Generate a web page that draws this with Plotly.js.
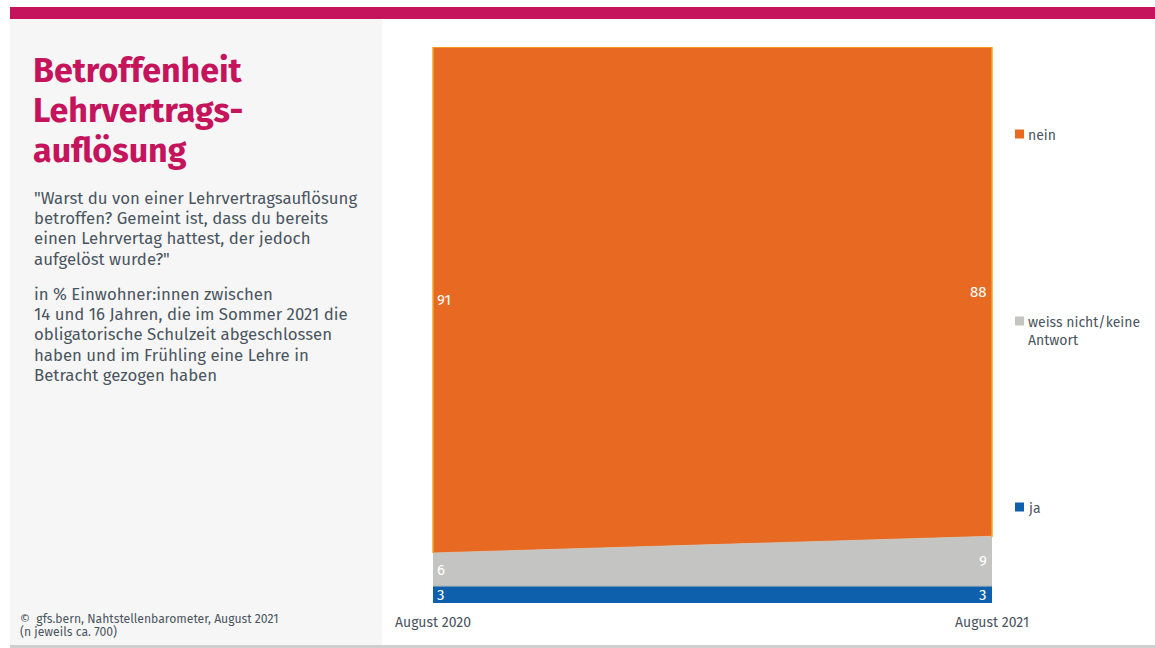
<!DOCTYPE html>
<html>
<head>
<meta charset="utf-8">
<script src="https://cdn.plot.ly/plotly-3.0.1.min.js"></script>
<style>
html,body{margin:0;padding:0;background:#fff;}
#chart{width:1155px;height:648px;}
</style>
</head>
<body>
<div id="chart"></div>
<script>
// ---- data ----
const periods = ['August 2020', 'August 2021'];
const seriesNames = ['ja', 'weiss nicht/keine Antwort', 'nein'];
const ja = [3, 3];
const weissNicht = [6, 9];
const nein = [91, 88];
const legendLabels = ['nein', 'weiss nicht/keine<br>Antwort', 'ja'];

const titleLines = ['Betroffenheit', 'Lehrvertrags-', 'auflösung'];
const questionLines = ['"Warst du von einer Lehrvertragsauflösung', 'betroffen? Gemeint ist, dass du bereits', 'einen Lehrvertag hattest, der jedoch', 'aufgelöst wurde?"'];
const baseLines = ['in % Einwohner:innen zwischen', '14 und 16 Jahren, die im Sommer 2021 die', 'obligatorische Schulzeit abgeschlossen', 'haben und im Frühling eine Lehre in', 'Betracht gezogen haben'];
const sourceLines = ['©  gfs.bern, Nahtstellenbarometer, August 2021', '(n jeweils ca. 700)'];

// ---- style ----
const colors = {ja: '#0E5FAC', weiss: '#C4C4C2', nein: '#E86A22'};
const lineColors = {ja: '#6f8fa8', weiss: '#c9c9c4', nein: '#F5A623'};
const textColor = '#4A5560';
const FONT = '"Fira Sans", "Open Sans", "Noto Sans", sans-serif';

const W = 1155, H = 648;
const L = 433, R = 992, T = 47, B = 603;
const X = px => (px - L) / (R - L);
const Y = py => (B - py) / (B - T);

const seriesVals = [ja, weissNicht, nein];
const seriesCols = [colors.ja, colors.weiss, colors.nein];
const seriesLines = [lineColors.ja, lineColors.weiss, lineColors.nein];

const traces = seriesVals.map((vals, i) => ({
  type: 'scatter',
  mode: 'lines',
  x: periods,
  y: vals,
  name: seriesNames[i],
  stackgroup: 'one',
  fillcolor: seriesCols[i],
  line: {color: seriesLines[i], width: i === 2 ? 1.5 : 0.8},
  hoverinfo: 'skip',
  showlegend: false
}));

// value labels at segment midpoints
const annotations = [];
periods.forEach((p, j) => {
  let base = 0;
  seriesVals.forEach((vals, i) => {
    const v = vals[j];
    annotations.push({
      x: j, y: base + v / 2, xref: 'x', yref: 'y',
      text: String(v), showarrow: false,
      xanchor: j === 0 ? 'left' : 'right',
      xshift: j === 0 ? 2 : -3,
      font: {family: FONT, size: 15, color: '#ffffff'}
    });
    base += v;
  });
});

// legend (custom, spread along the right side)
const legendY = [134, 321, 507];
const legendCols = [colors.nein, colors.weiss, colors.ja];
const shapes = [];
legendLabels.forEach((lab, i) => {
  annotations.push({
    x: X(1026), y: Y(legendY[i] - 9), xref: 'paper', yref: 'paper',
    text: lab, showarrow: false, xanchor: 'left', yanchor: 'top', align: 'left',
    font: {family: FONT, size: 14, color: textColor}
  });
  shapes.push({
    type: 'rect', xref: 'paper', yref: 'paper',
    x0: X(1015), x1: X(1024), y0: Y(legendY[i] + 4.5), y1: Y(legendY[i] - 4.5),
    fillcolor: legendCols[i], line: {width: 0}
  });
});

// page decoration
shapes.push({type: 'rect', xref: 'paper', yref: 'paper', layer: 'below',
  x0: X(10), x1: X(382), y0: Y(645), y1: Y(19), fillcolor: '#F6F6F6', line: {width: 0}});
shapes.push({type: 'rect', xref: 'paper', yref: 'paper',
  x0: X(10), x1: X(1155), y0: Y(19), y1: Y(7), fillcolor: '#C5135C', line: {width: 0}});
shapes.push({type: 'rect', xref: 'paper', yref: 'paper',
  x0: X(10), x1: X(1155), y0: Y(648), y1: Y(645), fillcolor: '#CFCFCF', line: {width: 0}});
shapes.push({type: 'line', xref: 'paper', yref: 'paper',
  x0: 0, x1: 0, y0: Y(553), y1: 1, line: {color: lineColors.nein, width: 1.5}});
shapes.push({type: 'line', xref: 'paper', yref: 'paper',
  x0: 1, x1: 1, y0: Y(537), y1: 1, line: {color: lineColors.nein, width: 1.5}});

// left panel text, one annotation per line for exact line spacing
function addLines(lines, px, firstCenter, spacing, font) {
  lines.forEach((t, k) => {
    annotations.push({
      x: X(px), y: Y(firstCenter + k * spacing), xref: 'paper', yref: 'paper',
      showarrow: false, xanchor: 'left', yanchor: 'middle', align: 'left',
      text: t, font: font
    });
  });
}
addLines(titleLines.map(t => '<b>' + t + '</b>'), 31, 71, 40, {family: FONT, size: 34, color: '#C5135C'});
addLines(questionLines, 32, 198.5, 20, {family: FONT, size: 16.8, color: textColor});
addLines(baseLines, 32, 293.5, 20.4, {family: FONT, size: 16.8, color: textColor});
addLines(sourceLines, 18, 618.5, 13.5, {family: FONT, size: 12.2, color: textColor});

const layout = {
  width: W, height: H,
  margin: {l: L, r: W - R, t: T, b: H - B, pad: 0},
  paper_bgcolor: '#FFFFFF',
  plot_bgcolor: '#FFFFFF',
  showlegend: false,
  xaxis: {
    type: 'category', range: [0, 1], showgrid: false, zeroline: false,
    showline: false, ticks: '', fixedrange: true, ticklabelstandoff: 9,
    tickfont: {family: FONT, size: 14, color: textColor}
  },
  yaxis: {
    range: [0, 100], visible: false, showgrid: false, zeroline: false, fixedrange: true
  },
  annotations: annotations,
  shapes: shapes
};

Plotly.newPlot('chart', traces, layout, {displayModeBar: false, staticPlot: true});
</script>
</body>
</html>
